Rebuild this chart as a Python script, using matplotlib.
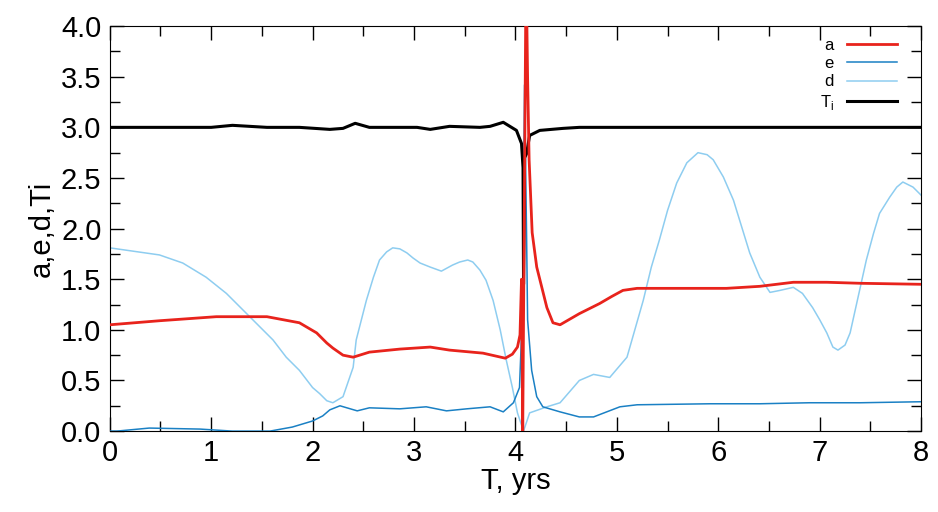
import matplotlib.pyplot as plt
import numpy as np

plt.rcParams['font.family'] = ['Liberation Sans', 'DejaVu Sans']
plt.rcParams['mathtext.fontset'] = 'custom'
plt.rcParams['mathtext.rm'] = 'Liberation Sans'

# semi-major axis a
t_a = [0.0, 0.49, 1.05, 1.55, 1.87, 2.04, 2.14, 2.2, 2.3, 2.4, 2.56, 2.86, 3.16,
       3.35, 3.68, 3.9, 3.97, 4.02, 4.045, 4.06, 4.072, 4.105, 4.12, 4.135,
       4.165, 4.21, 4.26, 4.31, 4.37, 4.44, 4.63, 4.83, 4.95, 5.06, 5.2, 5.75,
       6.08, 6.41, 6.74, 7.07, 7.4, 8.0]
a_val = [1.05, 1.09, 1.13, 1.13, 1.07, 0.97, 0.87, 0.82, 0.75, 0.73, 0.78, 0.81,
         0.83, 0.80, 0.77, 0.72, 0.76, 0.83, 0.95, 1.5, 0.0, 4.6, 3.49, 2.68,
         1.96, 1.62, 1.42, 1.22, 1.07, 1.05, 1.16, 1.26, 1.33, 1.39, 1.41, 1.41,
         1.41, 1.43, 1.47, 1.47, 1.46, 1.45]

# eccentricity e
t_e = [0.0, 0.07, 0.39, 0.89, 1.21, 1.58, 1.8, 2.0, 2.1, 2.17, 2.27, 2.44, 2.56,
       2.86, 3.12, 3.32, 3.52, 3.75, 3.88, 3.98, 4.04, 4.07, 4.09, 4.11, 4.12,
       4.16, 4.21, 4.27, 4.44, 4.63, 4.77, 4.9, 5.03, 5.2, 5.92, 6.41, 6.9,
       7.4, 8.0]
e_val = [0.0, 0.0, 0.03, 0.02, 0.0, 0.0, 0.04, 0.10, 0.15, 0.21, 0.25, 0.20,
         0.23, 0.22, 0.24, 0.20, 0.22, 0.24, 0.19, 0.28, 0.43, 1.2, 3.42, 1.92,
         1.1, 0.6, 0.34, 0.24, 0.19, 0.14, 0.14, 0.19, 0.24, 0.26, 0.27, 0.27,
         0.28, 0.28, 0.29]

# distance d
t_d = [0.0, 0.49, 0.72, 0.95, 1.15, 1.38, 1.61, 1.74, 1.87, 2.0, 2.07, 2.14, 2.2,
       2.3, 2.4, 2.43, 2.53, 2.6, 2.66, 2.73, 2.79, 2.86, 2.93, 2.99, 3.06,
       3.16, 3.27, 3.38, 3.45, 3.53, 3.58, 3.65, 3.71, 3.78, 3.85, 3.91, 3.97,
       4.02, 4.08, 4.14, 4.31, 4.44, 4.63, 4.77, 4.93, 5.1, 5.26, 5.34, 5.42,
       5.5, 5.59, 5.69, 5.8, 5.89, 5.95, 6.05, 6.15, 6.23, 6.31, 6.41, 6.51,
       6.61, 6.74, 6.83, 6.93, 7.0, 7.07, 7.13, 7.18, 7.25, 7.3, 7.4, 7.46,
       7.53, 7.59, 7.69, 7.76, 7.82, 7.92, 8.0]
d_val = [1.81, 1.74, 1.66, 1.52, 1.36, 1.13, 0.90, 0.73, 0.60, 0.43, 0.37, 0.30,
         0.28, 0.34, 0.63, 0.90, 1.29, 1.52, 1.69, 1.77, 1.81, 1.80, 1.76, 1.71,
         1.66, 1.62, 1.58, 1.64, 1.67, 1.69, 1.67, 1.59, 1.49, 1.29, 1.0, 0.70,
         0.43, 0.18, 0.0, 0.18, 0.24, 0.28, 0.50, 0.56, 0.53, 0.73, 1.29, 1.62,
         1.89, 2.18, 2.45, 2.65, 2.75, 2.73, 2.68, 2.51, 2.28, 2.02, 1.76, 1.52,
         1.37, 1.39, 1.42, 1.36, 1.22, 1.1, 0.97, 0.83, 0.80, 0.85, 0.97, 1.42,
         1.69, 1.95, 2.15, 2.31, 2.41, 2.46, 2.41, 2.33]

# Tisserand parameter Ti
t_ti = [0.0, 1.0, 1.21, 1.55, 1.87, 2.17, 2.3, 2.42, 2.56, 3.03, 3.16, 3.35, 3.65,
        3.75, 3.88, 4.01, 4.06, 4.075, 4.08, 4.085, 4.09, 4.11, 4.14, 4.24,
        4.47, 4.63, 6.0, 8.0]
ti_val = [3.0, 3.0, 3.02, 3.0, 3.0, 2.98, 2.99, 3.04, 3.0, 3.0, 2.98, 3.01, 3.0,
          3.01, 3.05, 2.97, 2.84, 2.6, 1.45, 2.0, 2.7, 2.74, 2.92, 2.97, 2.99,
          3.0, 3.0, 3.0]

fig, ax = plt.subplots(figsize=(9.38, 5.12), dpi=100)
fig.subplots_adjust(left=0.117, right=0.982, top=0.949, bottom=0.158)

ax.plot(t_d, d_val, color='#8ecdf0', lw=1.1, label='d', zorder=2)
ax.plot(t_e, e_val, color='#1a80c4', lw=1.1, label='e', zorder=3)
ax.plot(t_ti, ti_val, color='black', lw=2.2, label=r'T$_\mathregular{i}$', zorder=4)
ax.plot(t_a, a_val, color='#e8231c', lw=2.0, label='a', zorder=5)

ax.set_xlim(0, 8)
ax.set_ylim(0, 4)
ax.set_xticks(np.arange(0, 9, 1))
ax.set_xticks(np.arange(0, 8.01, 0.5), minor=True)
ax.set_yticks(np.arange(0, 4.01, 0.5))
ax.set_yticks(np.arange(0, 4.01, 0.25), minor=True)
ax.yaxis.set_major_formatter(plt.FormatStrFormatter('%.1f'))
ax.tick_params(which='both', direction='in', top=True, right=True, labelsize=21, pad=6)
ax.tick_params(which='major', length=10, width=1)
ax.tick_params(which='minor', length=7, width=1)

ax.set_xlabel('T, yrs', fontsize=21, labelpad=0)
ax.set_ylabel('a,e,d,Ti', fontsize=21, labelpad=4)

h, l = ax.get_legend_handles_labels()
order = [3, 1, 0, 2]
ax.legend([h[i] for i in order], [l[i] for i in order], loc='upper right',
          frameon=False, markerfirst=False, fontsize=12, handlelength=3.0,
          labelspacing=0.2, borderaxespad=0.3, bbox_to_anchor=(0.985, 1.0))

fig.savefig('out.png')
